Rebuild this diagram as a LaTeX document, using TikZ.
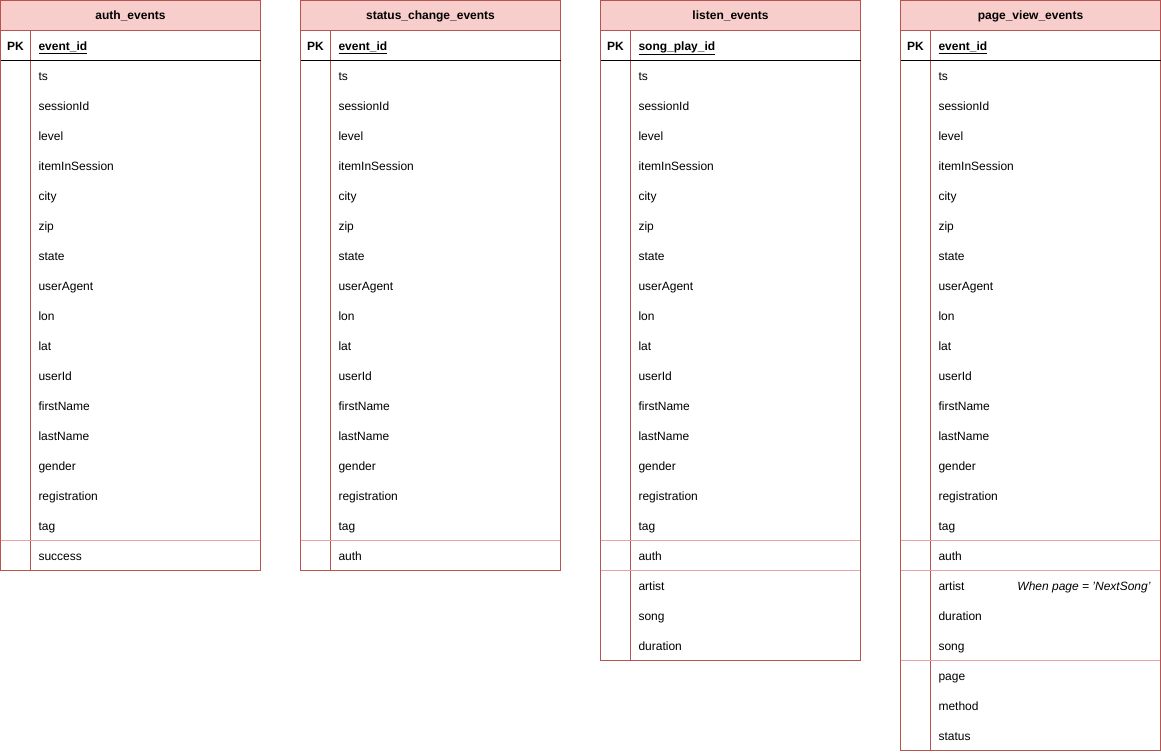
\documentclass[tikz,border=0pt]{standalone}
\usepackage{fontspec}
\setmainfont{Liberation Sans}
\definecolor{tblred}{HTML}{B85450}
\definecolor{tblpink}{HTML}{F8CECC}
\definecolor{tblsep}{HTML}{E6A5A5}

\begin{document}
\begin{tikzpicture}[x=1pt,y=-1pt,line width=1pt,
tblhead/.style={rectangle, draw=tblred, fill=tblpink, minimum width=260pt, minimum height=30pt, inner sep=0pt, text height=8.6pt, text depth=0pt, font=\fontsize{12}{14}\selectfont\bfseries},
pkmark/.style={inner sep=0pt, yshift=-1pt, text height=8.6pt, text depth=0pt, font=\fontsize{12}{14}\selectfont\bfseries},
field/.style={anchor=west, inner sep=0pt, yshift=-1pt, text height=8.6pt, text depth=0pt, font=\fontsize{12}{14}\selectfont},
keyfield/.style={field, font=\fontsize{12}{14}\selectfont\bfseries},
cond/.style={anchor=east, inner sep=0pt, yshift=-1pt, text height=8.6pt, text depth=0pt, font=\fontsize{12}{14}\selectfont\itshape}]

\useasboundingbox (0,0) rectangle (1161,752);

% the four tables, common part
\foreach \ox/\tn/\ttl/\pkf/\hb in {0/auth/auth\_events/event\_id/570,
  300/status/status\_change\_events/event\_id/570,
  600/listen/listen\_events/song\_play\_id/660,
  900/page/page\_view\_events/event\_id/750} {
  \draw[tblred] (\ox+0.5,30.5) rectangle (\ox+260.5,\hb+0.5);
  \draw[tblred] (\ox+30.5,30.5) -- (\ox+30.5,\hb+0.5);
  \draw[black] (\ox+0.5,60.5) -- (\ox+260.5,60.5);
  \draw[tblsep] (\ox+1,540.5) -- (\ox+260,540.5);
  \node[tblhead] (\tn-head) at (\ox+130.5,15.5) {\ttl};
  \node[pkmark] (\tn-pk) at (\ox+15.5,45) {PK};
  \node[keyfield] (\tn-key) at (\ox+38,45) {\underline{\pkf}};
  \foreach \f [count=\i] in {ts,sessionId,level,itemInSession,city,zip,state,userAgent,lon,lat,userId,firstName,lastName,gender,registration,tag}
    \node[field] (\tn-f\i) at (\ox+38,45+30*\i) {\f};
}

% extra rows
\node[field] (auth-f17) at (38,555) {success};
\node[field] (status-f17) at (338,555) {auth};

\draw[tblsep] (601,570.5) -- (860,570.5);
\foreach \f [count=\i from 17] in {auth,artist,song,duration}
  \node[field] (listen-f\i) at (638,45+30*\i) {\f};

\draw[tblsep] (901,570.5) -- (1160,570.5);
\draw[tblsep] (901,660.5) -- (1160,660.5);
\foreach \f [count=\i from 17] in {auth,artist,duration,song,page,method,status}
  \node[field] (page-f\i) at (938,45+30*\i) {\f};
\node[cond] (note) at (1151,585) {When page = 'NextSong'};
\end{tikzpicture}
\end{document}
